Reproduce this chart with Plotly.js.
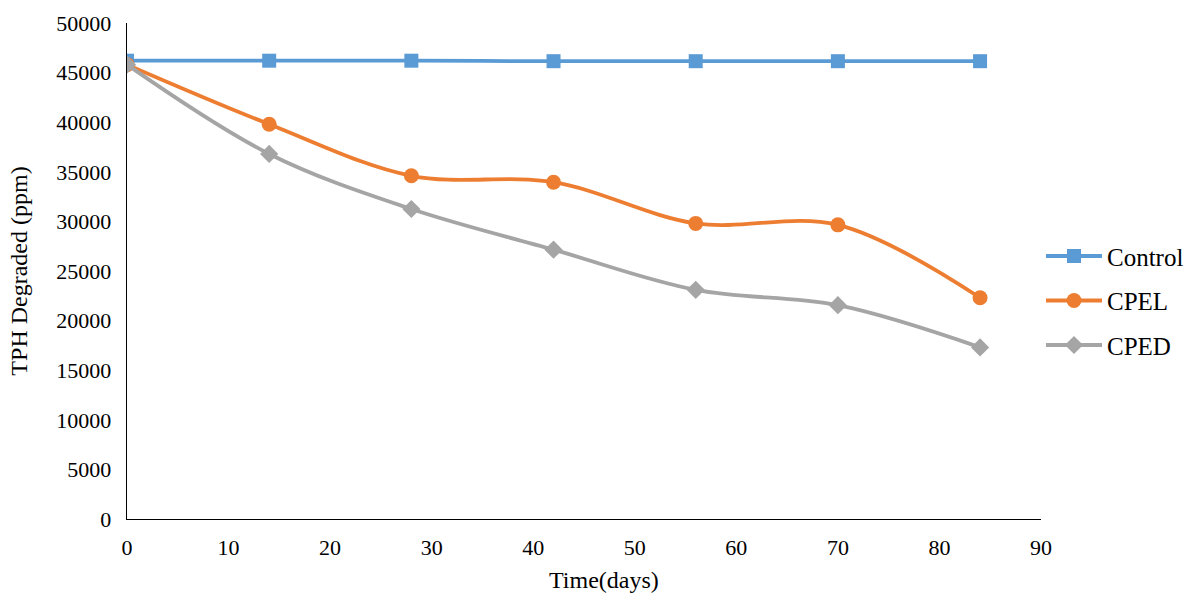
<!DOCTYPE html>
<html><head><meta charset="utf-8">
<script src="https://cdn.plot.ly/plotly-3.0.1.min.js"></script>
<style>html,body{margin:0;padding:0;background:#fff}#chart{width:1195px;height:600px}</style>
</head><body><div id="chart"></div>
<script>
const days = [0, 14, 28, 42, 56, 70, 84];
const control = [46200, 46200, 46200, 46150, 46150, 46150, 46150];
const cpel = [45800, 39800, 34600, 33950, 29800, 29650, 22300];
const cped = [45800, 36800, 31250, 27150, 23100, 21550, 17300];
const seriesNames = ['Control', 'CPEL', 'CPED'];
const xTitle = 'Time(days)';
const yTitle = 'TPH Degraded (ppm)';

const fam = '"Liberation Serif", "Times New Roman", serif';
const tickFont = {family: fam, size: 22, color: '#000'};
const titleFont = {family: fam, size: 24, color: '#000'};
const traces = [
  {x: days, y: control, name: seriesNames[0], legendgroup: 'a', mode: 'lines+markers', line: {color: '#5B9BD5', width: 3.8, shape: 'spline'}, marker: {symbol: 'square', size: 14, color: '#5B9BD5'}},
  {x: days, y: cpel, name: seriesNames[1], legendgroup: 'b', mode: 'lines+markers', line: {color: '#ED7D31', width: 3.8, shape: 'spline', smoothing: 1}, marker: {symbol: 'circle', size: 15, color: '#ED7D31'}},
  {x: days, y: cped, name: seriesNames[2], legendgroup: 'c', mode: 'lines+markers', line: {color: '#A5A5A5', width: 3.8, shape: 'spline', smoothing: 1}, marker: {symbol: 'diamond', size: 14, color: '#A5A5A5'}}
];
const layout = {
  width: 1195, height: 600,
  margin: {l: 127, r: 154, t: 23, b: 81, autoexpand: false},
  paper_bgcolor: '#fff', plot_bgcolor: '#fff',
  font: titleFont,
  showlegend: true,
  legend: {x: 1.0, xanchor: 'left', y: 0.44, yanchor: 'middle', font: {family: fam, size: 25, color: '#000'}, traceorder: 'grouped', tracegroupgap: 9, itemwidth: 56},
  xaxis: {range: [0, 90], dtick: 10, showgrid: false, zeroline: false, showline: true, linecolor: '#000', linewidth: 1.3, ticks: '', tickfont: tickFont, ticklabelstandoff: 8},
  yaxis: {range: [0, 50000], dtick: 5000, tickformat: 'd', showgrid: false, zeroline: false, showline: true, linecolor: '#000', linewidth: 1.3, ticks: '', tickfont: tickFont, ticklabelstandoff: 10,
    title: {text: yTitle, font: titleFont, standoff: 22}},
  annotations: [{text: xTitle, xref: 'paper', yref: 'paper', x: 0.522, y: -0.122, xanchor: 'center', yanchor: 'middle', showarrow: false, font: titleFont}]
};
Plotly.newPlot('chart', traces, layout, {displayModeBar: false, staticPlot: true});
</script></body></html>
